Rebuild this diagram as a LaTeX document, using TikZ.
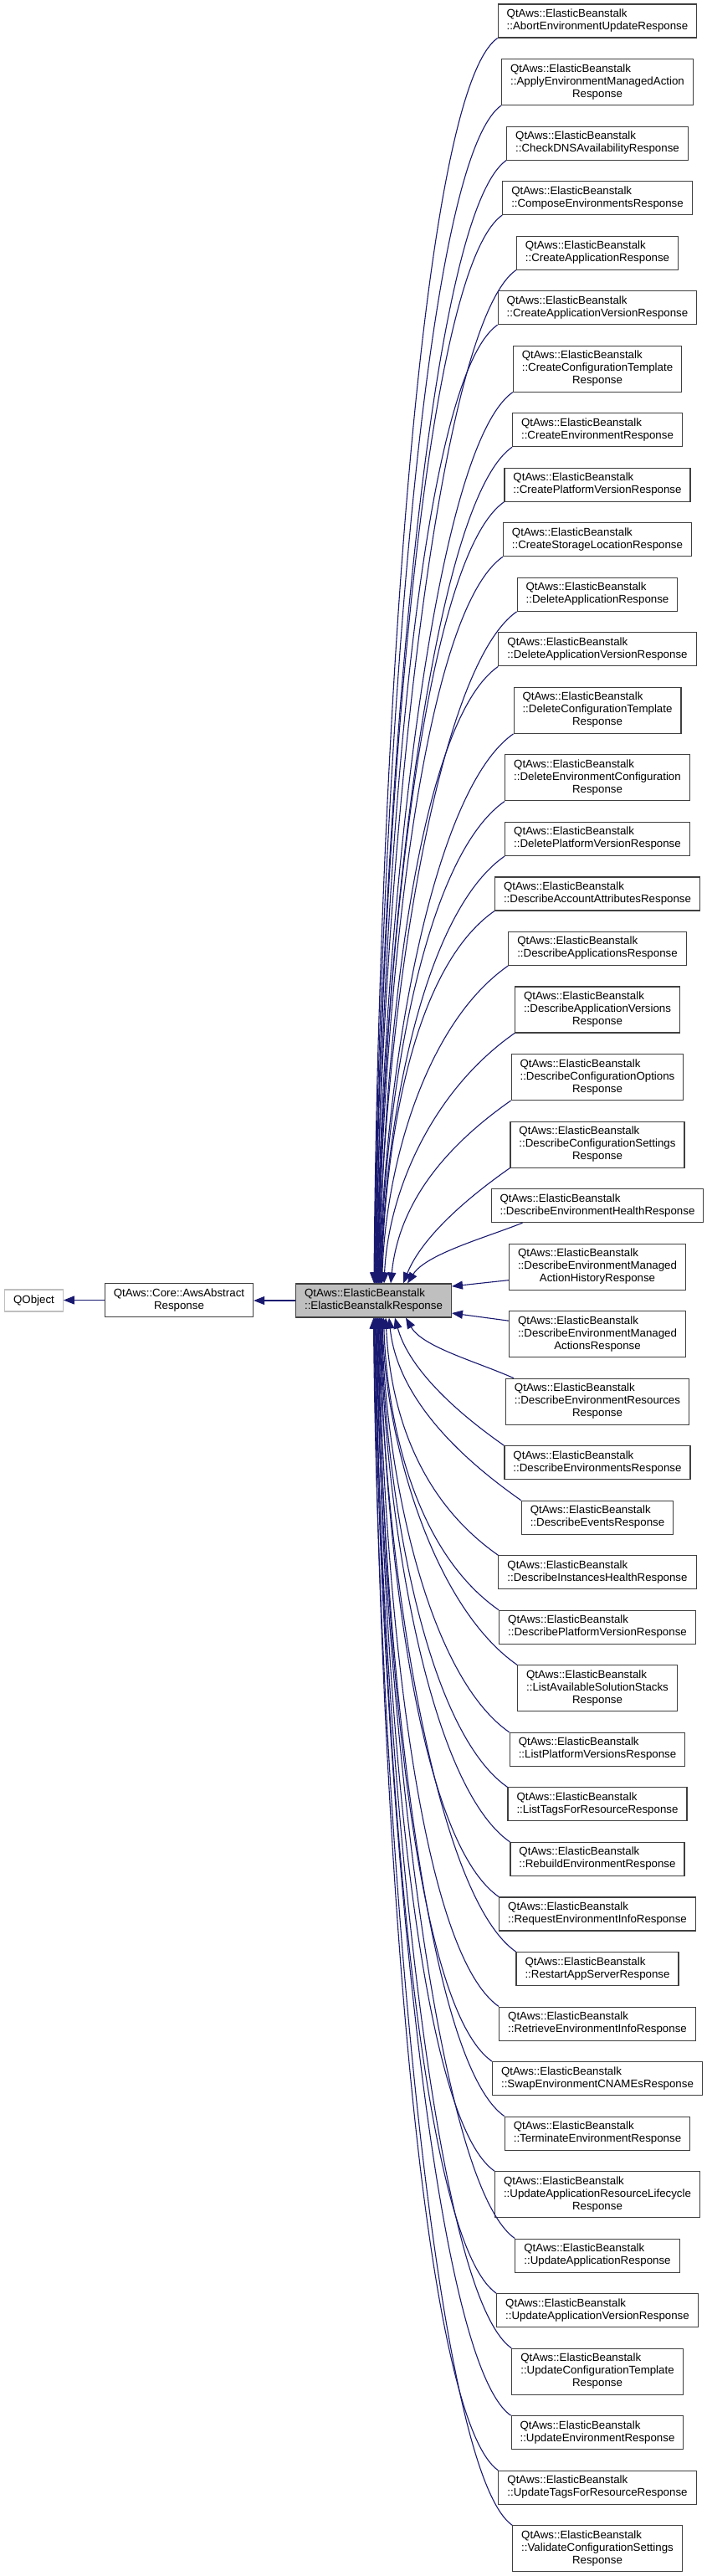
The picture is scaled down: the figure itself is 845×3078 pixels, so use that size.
\documentclass[tikz,border=0pt]{standalone}
\usepackage{fontspec}
\setmainfont{Liberation Sans}
\usetikzlibrary{arrows.meta,calc}
\definecolor{edgec}{RGB}{25,25,112}
\definecolor{boxc}{RGB}{64,64,64}
\definecolor{lgray}{RGB}{191,191,191}
\newcommand\EBNs{QtAws::ElasticBeanstalk}
\newcommand\twol[1]{\begin{tabular}{@{}l@{}}\EBNs\\#1\end{tabular}}
\newcommand\thrl[2]{\begin{tabular}{@{}l@{}}\EBNs\\#1\\\multicolumn{1}{@{}c@{}}{#2}\end{tabular}}
\newcommand\EdgeUp[5]{\draw[edge] (#1.south west) .. controls +(-#3,{0.7*#3}) and +(#5,-#4) .. ($(P.north)+(#2,0)$);}
\newcommand\EdgeDn[5]{\draw[edge] (#1.north west) .. controls +(-#3,{-0.7*#3}) and +(#5,#4) .. ($(P.south)+(#2,0)$);}
\begin{document}
\begin{tikzpicture}[x=1pt,y=-1pt,
  box/.style={draw=boxc, line width=1.1pt, fill=white, inner xsep=10.5pt, inner ysep=0pt,
    font=\fontsize{13.3}{15}\selectfont},
  b2/.style={box, minimum height=40pt},
  b3/.style={box, minimum height=55pt},
  edge/.style={draw=edgec, line width=1.1pt, -{Triangle[length=13pt,width=10pt]}}]
\fill[white] (0,0) rectangle (845,3078);
\useasboundingbox (0,0) rectangle (845,3078);
% left chain
\node[box, draw=lgray, minimum height=26pt] (Q) at (40.5,1554) {QObject};
\node[b2, align=center] (A) at (214,1553.5) {QtAws::Core::AwsAbstract\\Response};
\node[b2, fill=lgray] (P) at (446.5,1554) {\twol{::ElasticBeanstalkResponse}};
% children
\node[b2] (c1) at (714,25) {\twol{::AbortEnvironmentUpdateResponse}};
\node[b3] (c2) at (714,98.03) {\thrl{::ApplyEnvironmentManagedAction}{Response}};
\node[b2] (c3) at (714,171.06) {\twol{::CheckDNSAvailabilityResponse}};
\node[b2] (c4) at (714,236.59) {\twol{::ComposeEnvironmentsResponse}};
\node[b2] (c5) at (714,302.12) {\twol{::CreateApplicationResponse}};
\node[b2] (c6) at (714,367.65) {\twol{::CreateApplicationVersionResponse}};
\node[b3] (c7) at (714,440.68) {\thrl{::CreateConfigurationTemplate}{Response}};
\node[b2] (c8) at (714,513.71) {\twol{::CreateEnvironmentResponse}};
\node[b2] (c9) at (714,579.24) {\twol{::CreatePlatformVersionResponse}};
\node[b2] (c10) at (714,644.77) {\twol{::CreateStorageLocationResponse}};
\node[b2] (c11) at (714,710.30) {\twol{::DeleteApplicationResponse}};
\node[b2] (c12) at (714,775.83) {\twol{::DeleteApplicationVersionResponse}};
\node[b3] (c13) at (714,848.86) {\thrl{::DeleteConfigurationTemplate}{Response}};
\node[b3] (c14) at (714,929.39) {\thrl{::DeleteEnvironmentConfiguration}{Response}};
\node[b2] (c15) at (714,1002.42) {\twol{::DeletePlatformVersionResponse}};
\node[b2] (c16) at (714,1067.95) {\twol{::DescribeAccountAttributesResponse}};
\node[b2] (c17) at (714,1133.48) {\twol{::DescribeApplicationsResponse}};
\node[b3] (c18) at (714,1206.51) {\thrl{::DescribeApplicationVersions}{Response}};
\node[b3] (c19) at (714,1287.04) {\thrl{::DescribeConfigurationOptions}{Response}};
\node[b3] (c20) at (714,1367.57) {\thrl{::DescribeConfigurationSettings}{Response}};
\node[b2] (c21) at (714,1440.60) {\twol{::DescribeEnvironmentHealthResponse}};
\node[b3] (c22) at (714,1513.63) {\thrl{::DescribeEnvironmentManaged}{ActionHistoryResponse}};
\node[b3] (c23) at (714,1594.16) {\thrl{::DescribeEnvironmentManaged}{ActionsResponse}};
\node[b3] (c24) at (714,1674.69) {\thrl{::DescribeEnvironmentResources}{Response}};
\node[b2] (c25) at (714,1747.72) {\twol{::DescribeEnvironmentsResponse}};
\node[b2] (c26) at (714,1813.25) {\twol{::DescribeEventsResponse}};
\node[b2] (c27) at (714,1878.78) {\twol{::DescribeInstancesHealthResponse}};
\node[b2] (c28) at (714,1944.31) {\twol{::DescribePlatformVersionResponse}};
\node[b3] (c29) at (714,2017.34) {\thrl{::ListAvailableSolutionStacks}{Response}};
\node[b2] (c30) at (714,2090.37) {\twol{::ListPlatformVersionsResponse}};
\node[b2] (c31) at (714,2155.90) {\twol{::ListTagsForResourceResponse}};
\node[b2] (c32) at (714,2221.43) {\twol{::RebuildEnvironmentResponse}};
\node[b2] (c33) at (714,2286.96) {\twol{::RequestEnvironmentInfoResponse}};
\node[b2] (c34) at (714,2352.49) {\twol{::RestartAppServerResponse}};
\node[b2] (c35) at (714,2418.02) {\twol{::RetrieveEnvironmentInfoResponse}};
\node[b2] (c36) at (714,2483.55) {\twol{::SwapEnvironmentCNAMEsResponse}};
\node[b2] (c37) at (714,2549.08) {\twol{::TerminateEnvironmentResponse}};
\node[b3] (c38) at (714,2622.11) {\thrl{::UpdateApplicationResourceLifecycle}{Response}};
\node[b2] (c39) at (714,2695.14) {\twol{::UpdateApplicationResponse}};
\node[b2] (c40) at (714,2760.67) {\twol{::UpdateApplicationVersionResponse}};
\node[b3] (c41) at (714,2833.70) {\thrl{::UpdateConfigurationTemplate}{Response}};
\node[b2] (c42) at (714,2906.73) {\twol{::UpdateEnvironmentResponse}};
\node[b2] (c43) at (714,2972.26) {\twol{::UpdateTagsForResourceResponse}};
\node[b3] (c44) at (714,3045.29) {\thrl{::ValidateConfigurationSettings}{Response}};
% left edges
\draw[edge] (A.west) -- (A.west -| Q.east);
\draw[edge] (P.west) -- (P.west -| A.east);
% edges from children above
\EdgeUp{c1}{0.5}{100}{536}{4}
\EdgeUp{c2}{1.1}{100}{507}{4}
\EdgeUp{c3}{1.7}{100}{483}{4}
\EdgeUp{c4}{2.3}{100}{460}{4}
\EdgeUp{c5}{2.9}{100}{436}{4}
\EdgeUp{c6}{3.5}{100}{413}{4}
\EdgeUp{c7}{4.1}{100}{384}{4}
\EdgeUp{c8}{4.7}{100}{360}{4}
\EdgeUp{c9}{5.3}{100}{337}{4}
\EdgeUp{c10}{5.9}{100}{313}{4}
\EdgeUp{c11}{6.5}{100}{289}{4}
\EdgeUp{c12}{7.1}{100}{266}{4}
\EdgeUp{c13}{7.7}{100}{237}{4}
\EdgeUp{c14}{8.3}{100}{208}{4}
\EdgeUp{c15}{8.9}{100}{184}{4}
\EdgeUp{c16}{9.5}{100}{161}{4}
\EdgeUp{c17}{10.1}{100}{137}{4}
\EdgeUp{c18}{12.5}{100}{108}{5}
\EdgeUp{c19}{20.5}{98}{79}{8}
\EdgeUp{c20}{35.5}{62}{50}{20}
\draw[edge] ($(c21.south west)+(38,0)$) .. controls +(-45,18) and +(22,-35) .. ($(P.north)+(40.5,0)$);
\draw[edge] ($(c22.west)+(0,16)$) -- ($(P.east)+(0,-17)$);
\draw[edge] ($(c23.west)+(0,-16)$) -- ($(P.east)+(0,15)$);
\draw[edge] ($(c24.north west)+(10,0)$) .. controls +(-45,-20) and +(20,35) .. ($(P.south)+(38.5,0)$);
% edges from children below
\EdgeDn{c25}{25.5}{69}{55}{15}
\EdgeDn{c26}{18.5}{99}{79}{8}
\EdgeDn{c27}{14.5}{100}{103}{5}
\EdgeDn{c28}{12}{100}{126}{4}
\EdgeDn{c29}{10.5}{100}{150}{4}
\EdgeDn{c30}{9.8}{100}{179}{4}
\EdgeDn{c31}{9.1}{100}{202}{4}
\EdgeDn{c32}{8.4}{100}{226}{4}
\EdgeDn{c33}{7.7}{100}{249}{4}
\EdgeDn{c34}{7}{100}{273}{4}
\EdgeDn{c35}{6.3}{100}{297}{4}
\EdgeDn{c36}{5.6}{100}{320}{4}
\EdgeDn{c37}{4.9}{100}{344}{4}
\EdgeDn{c38}{4.2}{100}{367}{4}
\EdgeDn{c39}{3.5}{100}{396}{4}
\EdgeDn{c40}{2.8}{100}{420}{4}
\EdgeDn{c41}{2.1}{100}{444}{4}
\EdgeDn{c42}{1.4}{100}{473}{4}
\EdgeDn{c43}{0.7}{100}{496}{4}
\EdgeDn{c44}{0}{100}{520}{4}
\end{tikzpicture}
\end{document}
